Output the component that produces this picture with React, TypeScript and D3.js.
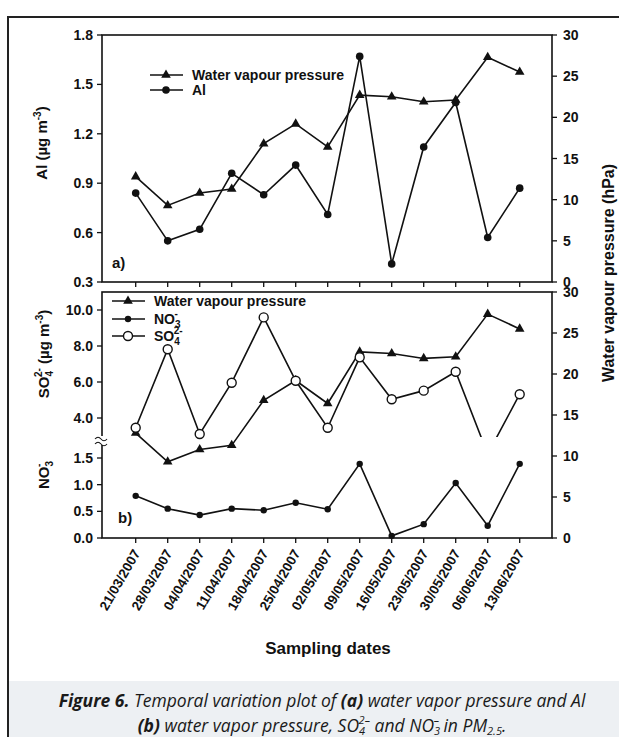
import React from 'react';
import * as d3 from 'd3';

const dates = [
  '21/03/2007', '28/03/2007', '04/04/2007', '11/04/2007', '18/04/2007', '25/04/2007',
  '02/05/2007', '09/05/2007', '16/05/2007', '23/05/2007', '30/05/2007', '06/06/2007', '13/06/2007',
];
const waterVapour = [12.8, 9.3, 10.8, 11.3, 16.8, 19.2, 16.4, 22.7, 22.5, 21.9, 22.1, 27.3, 25.5];
const alValues = [0.84, 0.55, 0.62, 0.96, 0.83, 1.01, 0.71, 1.67, 0.41, 1.12, 1.39, 0.57, 0.87];
const so4Values = [3.46, 7.82, 3.11, 5.96, 9.59, 6.07, 3.46, 7.37, 5.04, 5.52, 6.57, 2.0, 5.32];
const no3Values = [0.79, 0.55, 0.43, 0.55, 0.52, 0.66, 0.54, 1.39, 0.04, 0.26, 1.03, 0.23, 1.39];

const alTicks = [0.3, 0.6, 0.9, 1.2, 1.5, 1.8];
const wvpTicks = [0, 5, 10, 15, 20, 25, 30];
const so4Ticks = [4, 6, 8, 10];
const no3Ticks = [0, 0.5, 1.0, 1.5];

const FONT = '"Liberation Sans", Arial, sans-serif';

export default function App() {
  const L = 102, R = 552;
  const topT = 35, topB = 282, botT = 292, botB = 538;
  const so4ClipY = 437;

  const x = d3.scalePoint<string>().domain(dates).range([135.7, 519.7]);
  const yAl = d3.scaleLinear().domain([0.3, 1.8]).range([topB, topT]);
  const yW1 = d3.scaleLinear().domain([0, 30]).range([topB, topT]);
  const yW2 = d3.scaleLinear().domain([0, 30]).range([botB, botT]);
  const yS = d3.scaleLinear().domain([4, 10]).range([418, 310]);
  const yN = d3.scaleLinear().domain([0, 1.5]).range([botB, 458]);

  const mkLine = (ys: (v: number) => number) =>
    d3.line<number>().x((_, i) => x(dates[i])!).y((d) => ys(d));

  const tri = d3.symbol(d3.symbolTriangle, 40)()!;

  const tickText = { fontFamily: FONT, fontWeight: 'bold' as const, fontSize: 14, fill: '#111' };

  const leftAxis = (ticks: number[], scale: (v: number) => number, fmt: (v: number) => string) =>
    ticks.map((t) => (
      <g key={'l' + t + fmt(t)}>
        <line x1={L - 5} x2={L} y1={scale(t)} y2={scale(t)} stroke="#111" strokeWidth={1.3} />
        <text x={L - 9} y={scale(t) + 5} textAnchor="end" {...tickText}>{fmt(t)}</text>
      </g>
    ));
  const rightAxis = (ticks: number[], scale: (v: number) => number, key: string) =>
    ticks.map((t) => (
      <g key={key + t}>
        <line x1={R} x2={R + 5} y1={scale(t)} y2={scale(t)} stroke="#111" strokeWidth={1.3} />
        <text x={R + 11} y={scale(t) + 5} textAnchor="start" {...tickText}>{t}</text>
      </g>
    ));
  const xTicks = (yb: number, key: string) =>
    dates.map((d) => (
      <line key={key + d} x1={x(d)!} x2={x(d)!} y1={yb} y2={yb + 5} stroke="#111" strokeWidth={1.3} />
    ));

  const f1 = d3.format('.1f');

  return (
    <svg width={619} height={737} style={{ position: 'absolute', left: 0, top: 0, background: '#fff' }}>
      <defs>
        <clipPath id="so4clip">
          <rect x={L} y={botT} width={R - L} height={so4ClipY - botT} />
        </clipPath>
      </defs>
      <rect x={0} y={0} width={619} height={737} fill="#fff" />
      {/* caption background */}
      <rect x={9} y={681} width={610} height={56} fill="#edf0f3" />
      {/* outer figure border */}
      <line x1={8} x2={619} y1={17} y2={17} stroke="#222" strokeWidth={2} />
      <line x1={8} x2={8} y1={16} y2={737} stroke="#222" strokeWidth={2} />

      {/* ===== Top panel ===== */}
      <rect x={L} y={topT} width={R - L} height={topB - topT} fill="none" stroke="#111" strokeWidth={1.6} />
      {leftAxis(alTicks, yAl, f1)}
      {rightAxis(wvpTicks, yW1, 'rt')}
      {xTicks(topB, 'xt')}
      <path d={mkLine(yW1)(waterVapour)!} fill="none" stroke="#111" strokeWidth={1.6} />
      <path d={mkLine(yAl)(alValues)!} fill="none" stroke="#111" strokeWidth={1.6} />
      {waterVapour.map((v, i) => (
        <path key={'wt' + i} d={tri} transform={`translate(${x(dates[i])},${yW1(v)})`} fill="#111" />
      ))}
      {alValues.map((v, i) => (
        <circle key={'al' + i} cx={x(dates[i])} cy={yAl(v)} r={3.8} fill="#111" />
      ))}
      {/* top legend */}
      <line x1={150} x2={183} y1={75} y2={75} stroke="#111" strokeWidth={1.6} />
      <path d={tri} transform="translate(166,75)" fill="#111" />
      <text x={192} y={80} {...tickText}>Water vapour pressure</text>
      <line x1={150} x2={183} y1={90} y2={90} stroke="#111" strokeWidth={1.6} />
      <circle cx={166} cy={90} r={3.8} fill="#111" />
      <text x={192} y={95} {...tickText}>Al</text>
      <text x={112} y={268} fontFamily={FONT} fontWeight="bold" fontSize={15} fill="#111">a)</text>

      {/* ===== Bottom panel ===== */}
      <rect x={L} y={botT} width={R - L} height={botB - botT} fill="none" stroke="#111" strokeWidth={1.6} />
      {leftAxis(so4Ticks, yS, f1)}
      {leftAxis(no3Ticks, yN, f1)}
      {rightAxis(wvpTicks, yW2, 'rb')}
      {xTicks(botB, 'xb')}
      {/* axis break */}
      <rect x={96} y={436} width={12} height={9} fill="#fff" />
      <path d="M95,439 q3,-3.5 6,0 t6,0 M95,444 q3,-3.5 6,0 t6,0" fill="none" stroke="#111" strokeWidth={1.1} />

      <path d={mkLine(yW2)(waterVapour)!} fill="none" stroke="#111" strokeWidth={1.6} />
      <path d={mkLine(yS)(so4Values)!} fill="none" stroke="#111" strokeWidth={1.6} clipPath="url(#so4clip)" />
      <path d={mkLine(yN)(no3Values)!} fill="none" stroke="#111" strokeWidth={1.6} />
      {waterVapour.map((v, i) => (
        <path key={'wb' + i} d={tri} transform={`translate(${x(dates[i])},${yW2(v)})`} fill="#111" />
      ))}
      {so4Values.map((v, i) =>
        yS(v) <= so4ClipY ? (
          <circle key={'so' + i} cx={x(dates[i])} cy={yS(v)} r={4.5} fill="#fff" stroke="#111" strokeWidth={1.4} />
        ) : null
      )}
      {no3Values.map((v, i) => (
        <circle key={'no' + i} cx={x(dates[i])} cy={yN(v)} r={3.2} fill="#111" />
      ))}
      {/* bottom legend */}
      <line x1={112} x2={145} y1={301} y2={301} stroke="#111" strokeWidth={1.6} />
      <path d={tri} transform="translate(128,301)" fill="#111" />
      <text x={154} y={306} {...tickText}>Water vapour pressure</text>
      <line x1={112} x2={145} y1={319} y2={319} stroke="#111" strokeWidth={1.6} />
      <circle cx={128} cy={319} r={3.2} fill="#111" />
      <text x={154} y={324} {...tickText}>
        NO<tspan fontSize={10} dy={4}>3</tspan><tspan fontSize={10} dx={-6} dy={-11}>-</tspan>
      </text>
      <line x1={112} x2={145} y1={336} y2={336} stroke="#111" strokeWidth={1.6} />
      <circle cx={128} cy={336} r={4.5} fill="#fff" stroke="#111" strokeWidth={1.4} />
      <text x={154} y={341} {...tickText}>
        SO<tspan fontSize={10} dy={4}>4</tspan><tspan fontSize={10} dx={-6} dy={-11}>2-</tspan>
      </text>
      <text x={118} y={523} fontFamily={FONT} fontWeight="bold" fontSize={15} fill="#111">b)</text>

      {/* x tick labels */}
      {dates.map((d) => (
        <text key={'lab' + d} transform={`translate(${x(d)! + 5},553) rotate(-60)`} textAnchor="end"
          fontFamily={FONT} fontWeight="bold" fontSize={13.5} fill="#111">{d}</text>
      ))}
      <text x={328} y={654} textAnchor="middle" fontFamily={FONT} fontWeight="bold" fontSize={17} fill="#111">Sampling dates</text>

      {/* axis titles */}
      <text transform="translate(47,143) rotate(-90)" textAnchor="middle" fontFamily={FONT} fontWeight="bold" fontSize={15} fill="#111">
        Al (µg m<tspan fontSize={10} dy={-6}>-3</tspan><tspan dy={6}>)</tspan>
      </text>
      <text transform="translate(49,354) rotate(-90)" textAnchor="middle" fontFamily={FONT} fontWeight="bold" fontSize={15} fill="#111">
        SO<tspan fontSize={10} dy={4}>4</tspan><tspan fontSize={10} dx={-6} dy={-11}>2-</tspan><tspan dy={7}> (µg m</tspan><tspan fontSize={10} dy={-6}>-3</tspan><tspan dy={6}>)</tspan>
      </text>
      <text transform="translate(49,475) rotate(-90)" textAnchor="middle" fontFamily={FONT} fontWeight="bold" fontSize={15} fill="#111">
        NO<tspan fontSize={10} dy={4}>3</tspan><tspan fontSize={10} dx={-6} dy={-11}>-</tspan>
      </text>
      <text transform="translate(614,273) rotate(-90)" textAnchor="middle" fontFamily={FONT} fontWeight="bold" fontSize={16} fill="#111">
        Water vapour pressure (hPa)
      </text>

      {/* caption */}
      <text x={322} y={707} textAnchor="middle" fontFamily='"Open Sans", sans-serif' fontStyle="italic" fontSize={17.5} fill="#1a1a1a">
        <tspan fontWeight="bold">Figure 6.</tspan> Temporal variation plot of <tspan fontWeight="bold">(a)</tspan> water vapor pressure and Al
      </text>
      <text x={322} y={732} textAnchor="middle" fontFamily='"Open Sans", sans-serif' fontStyle="italic" fontSize={17.5} fill="#1a1a1a">
        <tspan fontWeight="bold">(b)</tspan> water vapor pressure, SO<tspan fontSize={11} dy={3}>4</tspan><tspan fontSize={11} dx={-6.5} dy={-11}>2–</tspan><tspan dy={8}> and NO</tspan><tspan fontSize={11} dy={3}>3</tspan><tspan fontSize={11} dx={-6.5} dy={-11}>–</tspan><tspan dy={8}> in PM</tspan><tspan fontSize={11} dy={3}>2.5</tspan><tspan dy={-3}>.</tspan>
      </text>
    </svg>
  );
}
